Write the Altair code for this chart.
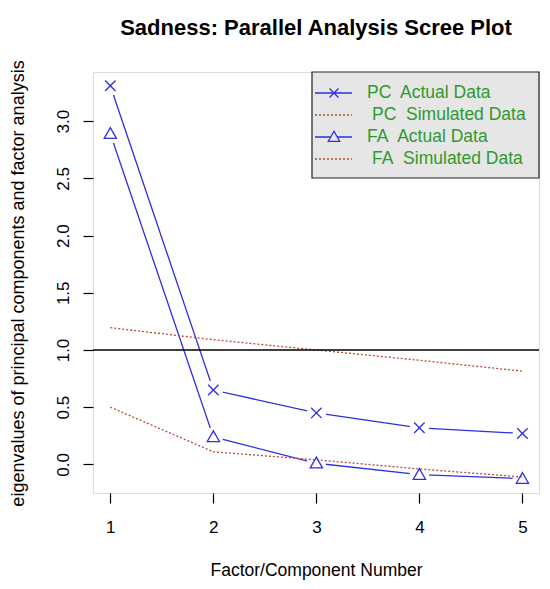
import altair as alt
import pandas as pd

# ---- data ----
factors = [1, 2, 3, 4, 5]
pc_actual = [3.31, 0.65, 0.45, 0.32, 0.27]
pc_simulated = [1.195, 1.09, 1.0, 0.91, 0.815]
fa_actual = [2.89, 0.24, 0.01, -0.09, -0.125]
fa_simulated = [0.50, 0.11, 0.04, -0.04, -0.11]

y_ticks = [0.0, 0.5, 1.0, 1.5, 2.0, 2.5, 3.0]
legend_labels = ["PC\u00a0 Actual Data", "PC\u00a0 Simulated Data",
                 "FA\u00a0 Actual Data", "FA\u00a0 Simulated Data"]
chart_title = "Sadness: Parallel Analysis Scree Plot"

BLUE = "#2f2fe0"
RED = "#b84a38"
GREEN = "#2e9a2e"
FONT = "Liberation Sans"

X_PATH = "M-1,-1L1,1M-1,1L1,-1"
TRI_PATH = "M-1,0.75L1,0.75L0,-1Z"

actual = pd.DataFrame({
    "x": factors * 2,
    "value": pc_actual + fa_actual,
    "series": ["PC Actual"] * 5 + ["FA Actual"] * 5,
})
simulated = pd.DataFrame({
    "x": factors * 2,
    "value": pc_simulated + fa_simulated,
    "series": ["PC Simulated"] * 5 + ["FA Simulated"] * 5,
})
pc_df = pd.DataFrame({"x": factors, "value": pc_actual})
fa_df = pd.DataFrame({"x": factors, "value": fa_actual})

xs = alt.Scale(domain=[0.832, 5.161], nice=False, zero=False)
ys = alt.Scale(domain=[-0.25, 3.43], nice=False, zero=False)

X = alt.X("x:Q", scale=xs, axis=alt.Axis(
    values=factors, format="d", title="Factor/Component Number",
    grid=False, domain=False, tickSize=10, tickColor="black", tickWidth=1.2,
    labelFontSize=17, labelColor="black", labelFont=FONT, labelPadding=16,
    titleFontSize=17.5, titleFontWeight="normal", titleFont=FONT, titleColor="black",
    titleX=223, titleY=77, titleAlign="center", titleBaseline="middle",
))
Y = alt.Y("value:Q", scale=ys, axis=alt.Axis(
    values=y_ticks, format=".1f",
    title="eigenvalues of principal components and factor analysis",
    grid=False, domain=False, tickSize=10, tickColor="black", tickWidth=1.2,
    labelFontSize=17, labelColor="black", labelFont=FONT, labelAngle=270,
    labelAlign="center", labelBaseline="bottom", labelPadding=11,
    titleFontSize=18, titleFontWeight="normal", titleFont=FONT, titleColor="black",
    titleAngle=270, titleX=-75, titleY=211, titleAlign="center", titleBaseline="middle",
))

blue_lines = alt.Chart(actual).mark_line(color=BLUE, strokeWidth=1.3).encode(
    x=X, y=Y, detail="series:N")
gaps = alt.Chart(actual).mark_point(filled=True, shape="circle", fill="white",
                                    opacity=1, size=380, strokeWidth=0).encode(
    x="x:Q", y="value:Q")
red_lines = alt.Chart(simulated).mark_line(color=RED, strokeWidth=1.3,
                                           strokeDash=[2, 2]).encode(
    x="x:Q", y="value:Q", detail="series:N")
one = pd.DataFrame({"v": [1.0]})
hline = alt.Chart(one).mark_rule(color="black", strokeWidth=1.3).encode(y="v:Q")
pc_pts = alt.Chart(pc_df).mark_point(shape=X_PATH, size=110, color=BLUE,
                                     strokeWidth=1.3, opacity=1).encode(
    x="x:Q", y="value:Q")
fa_pts = alt.Chart(fa_df).mark_point(shape=TRI_PATH, size=150, color=BLUE,
                                     strokeWidth=1.3, opacity=1).encode(
    x="x:Q", y="value:Q")

single = pd.DataFrame({"k": [0]})

# ---- title as a text mark above the plot ----
title_mark = alt.Chart(single).mark_text(
    text=chart_title, align="center", baseline="alphabetic", fontSize=22,
    fontWeight="bold", font=FONT, color="black").encode(
    x=alt.value(223), y=alt.value(-37))

# ---- legend (top-right box) ----
legend_layers = [
    alt.Chart(single).mark_rect(fill="#e6e6e6", stroke="#222222", strokeWidth=1.2).encode(
        x=alt.value(219), x2=alt.value(446), y=alt.value(0), y2=alt.value(106))
]
row_y = [21, 43, 65, 87]
for i, label in enumerate(legend_labels):
    is_actual = i % 2 == 0
    legend_layers.append(
        alt.Chart(single).mark_rule(
            color=BLUE if is_actual else RED, strokeWidth=1.3,
            strokeDash=[1, 0] if is_actual else [2, 2]).encode(
            x=alt.value(222), x2=alt.value(259), y=alt.value(row_y[i])))
    if is_actual:
        legend_layers.append(
            alt.Chart(single).mark_point(
                shape=X_PATH if i == 0 else TRI_PATH, size=80 if i == 0 else 130,
                color=BLUE, strokeWidth=1.3, opacity=1, fill="#e6e6e6",
                filled=False).encode(x=alt.value(241), y=alt.value(row_y[i])))
    legend_layers.append(
        alt.Chart(single).mark_text(
            text=label, align="left", baseline="middle", fontSize=17.5,
            font=FONT, color=GREEN).encode(
            x=alt.value(274 if is_actual else 279), y=alt.value(row_y[i])))

chart = alt.layer(
    blue_lines, gaps, red_lines, hline, pc_pts, fa_pts, title_mark, *legend_layers
).properties(
    width=446, height=421,
    autosize=alt.AutoSizeParams(type="none"),
    padding={"left": 85, "top": 64, "right": 3, "bottom": 88},
).configure_view(stroke="black", strokeWidth=1.3).configure(background="white")

chart.save("out.html", embed_options={"renderer": "svg", "actions": False})
